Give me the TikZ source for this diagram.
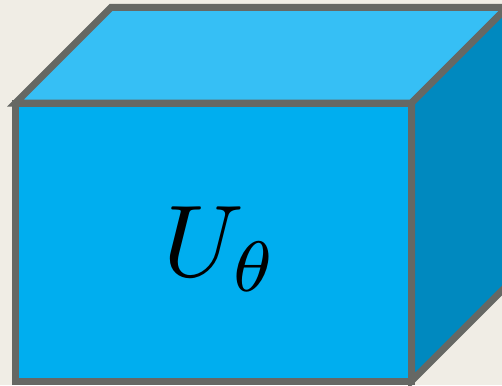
\documentclass[tikz,border=0pt]{standalone}
\usepackage{graphicx}
\definecolor{bgc}{RGB}{240,237,229}
\definecolor{frontc}{RGB}{0,174,239}
\definecolor{topc}{RGB}{54,191,245}
\definecolor{sidec}{RGB}{0,137,191}
\definecolor{edgec}{RGB}{102,104,100}
\begin{document}
\begin{tikzpicture}[x=1pt,y=-1pt,
  face/.style={draw=edgec,line width=7pt,line join=miter}]
\fill[bgc] (0,0) rectangle (502,385);
\useasboundingbox (0,0) rectangle (502,385);
\begin{scope}
\clip (0,0) rectangle (502,385);
\coordinate (A) at (15.5,103);
\coordinate (B) at (411.5,103);
\coordinate (C) at (411.5,381);
\coordinate (D) at (15.5,381);
\coordinate (E) at (111,7.5);
\coordinate (F) at (507,7.5);
\coordinate (G) at (507,285.5);
\path[face,fill=topc] (A) -- (E) -- (F) -- (B) -- cycle;
\path[face,fill=sidec] (B) -- (F) -- (G) -- (C) -- cycle;
\path[face,fill=frontc] (A) -- (B) -- (C) -- (D) -- cycle;
\end{scope}
\node[inner sep=0pt] (lbl) at (221,249) {\scalebox{10.2}{$U_\theta$}};
\end{tikzpicture}
\end{document}
